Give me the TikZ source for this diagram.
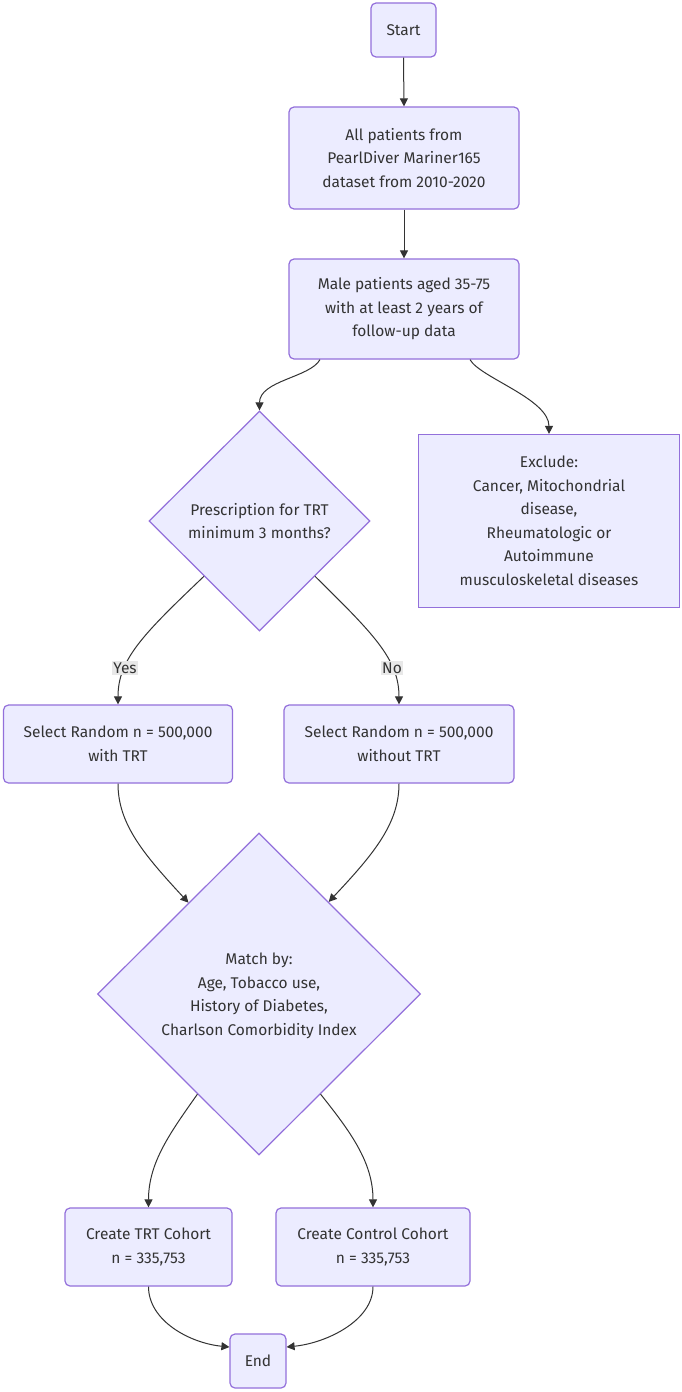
\documentclass[tikz,border=0pt]{standalone}
\usepackage{fontspec}
\setmainfont{Fira Sans}
\usetikzlibrary{shapes.geometric,arrows.meta,calc}
\definecolor{nodefill}{HTML}{ECECFF}
\definecolor{nodedraw}{HTML}{9370DB}
\definecolor{txt}{HTML}{333333}
\definecolor{lblbg}{HTML}{E8E8E8}
\begin{document}
\begin{tikzpicture}[x=1pt,y=-1pt,
  every node/.style={text=txt,font=\fontsize{15.5}{23.5}\selectfont},
  proc/.style={rectangle,rounded corners=5pt,fill=nodefill,draw=nodedraw,line width=1.2pt,align=center,inner sep=0pt},
  sqbox/.style={rectangle,fill=nodefill,draw=nodedraw,line width=1.2pt,align=center,inner sep=0pt},
  dec/.style={diamond,fill=nodefill,draw=nodedraw,line width=1.2pt,inner sep=0pt},
  lbl/.style={fill=lblbg,inner sep=1.5pt,text=txt},
  conn/.style={draw=txt,line width=1pt,-{Triangle[length=8pt,width=8pt]}}
]
\useasboundingbox (0,0) rectangle (682,1392);
\fill[white] (0,0) rectangle (682,1392);

\node[proc,minimum width=65pt,minimum height=54pt] (start) at (403.5,30) {Start};
\node[proc,minimum width=230pt,minimum height=102pt] (all) at (404,158) {All patients from\\PearlDiver Mariner165\\dataset from 2010-2020};
\node[proc,minimum width=230pt,minimum height=100pt] (male) at (404,309) {Male patients aged 35-75\\with at least 2 years of\\follow-up data};
\node[dec,minimum width=221pt,minimum height=220pt] (presc) at (259.5,521) {};
\node (presctext) at (259.5,521) [align=center] {Prescription for TRT\\minimum 3 months?};
\node[sqbox,minimum width=261pt,minimum height=173pt] (excl) at (549,521) {Exclude:\\Cancer, Mitochondrial\\disease,\\Rheumatologic or\\Autoimmune\\musculoskeletal diseases};
\node[proc,minimum width=229pt,minimum height=78pt] (selyes) at (118,744) {Select Random n = 500,000\\with TRT};
\node[proc,minimum width=230pt,minimum height=78pt] (selno) at (399,744) {Select Random n = 500,000\\without TRT};
\node[dec,minimum width=323pt,minimum height=322pt] (match) at (259,994) {};
\node (matchtext) at (259,996) [align=center] {Match by:\\Age, Tobacco use,\\History of Diabetes,\\Charlson Comorbidity Index};
\node[proc,minimum width=167pt,minimum height=78pt] (trt) at (148.5,1247) {Create TRT Cohort\\n = 335,753};
\node[proc,minimum width=194pt,minimum height=78pt] (ctrl) at (373,1247) {Create Control Cohort\\n = 335,753};
\node[proc,minimum width=56pt,minimum height=54pt] (end) at (258,1361) {End};

\draw[conn] (start.south) -- (all.north);
\draw[conn] (all.south) -- (male.north);
\draw[conn] ($(male.south)+(-84,0)$) .. controls ($(male.south)+(-94,18)$) and ($(presc.north)+(0,-30)$) .. (presc.north);
\draw[conn] ($(male.south)+(66,0)$) .. controls ($(male.south)+(76,18)$) and ($(excl.north)+(0,-35)$) .. (excl.north);
\draw[conn] ($(presc.west)!0.5!(presc.south)$) .. controls ($(selyes.north)+(25,-70)$) and ($(selyes.north)+(0,-45)$) .. (selyes.north)
  node[lbl,pos=0.7] (yeslbl) {Yes};
\draw[conn] ($(presc.east)!0.5!(presc.south)$) .. controls ($(selno.north)+(-25,-70)$) and ($(selno.north)+(0,-45)$) .. (selno.north)
  node[lbl,pos=0.7] (nolbl) {No};
\draw[conn] (selyes.south) .. controls ($(selyes.south)+(0,40)$) and ($(selyes.south)+(25,70)$) .. ($(match.north)!0.435!(match.west)$);
\draw[conn] (selno.south) .. controls ($(selno.south)+(0,40)$) and ($(selno.south)+(-25,70)$) .. ($(match.north)!0.43!(match.east)$);
\draw[conn] ($(match.south)!0.38!(match.west)$) .. controls ($(trt.north)+(22,-75)$) and ($(trt.north)+(0,-45)$) .. (trt.north);
\draw[conn] ($(match.south)!0.38!(match.east)$) .. controls ($(ctrl.north)+(-22,-75)$) and ($(ctrl.north)+(0,-45)$) .. (ctrl.north);
\draw[conn] (trt.south) .. controls ($(trt.south)+(0,34)$) and ($(end.west)+(-40,-18)$) .. ($(end.west)+(0,-14)$);
\draw[conn] (ctrl.south) .. controls ($(ctrl.south)+(0,34)$) and ($(end.east)+(40,-18)$) .. ($(end.east)+(0,-14)$);
\end{tikzpicture}
\end{document}
